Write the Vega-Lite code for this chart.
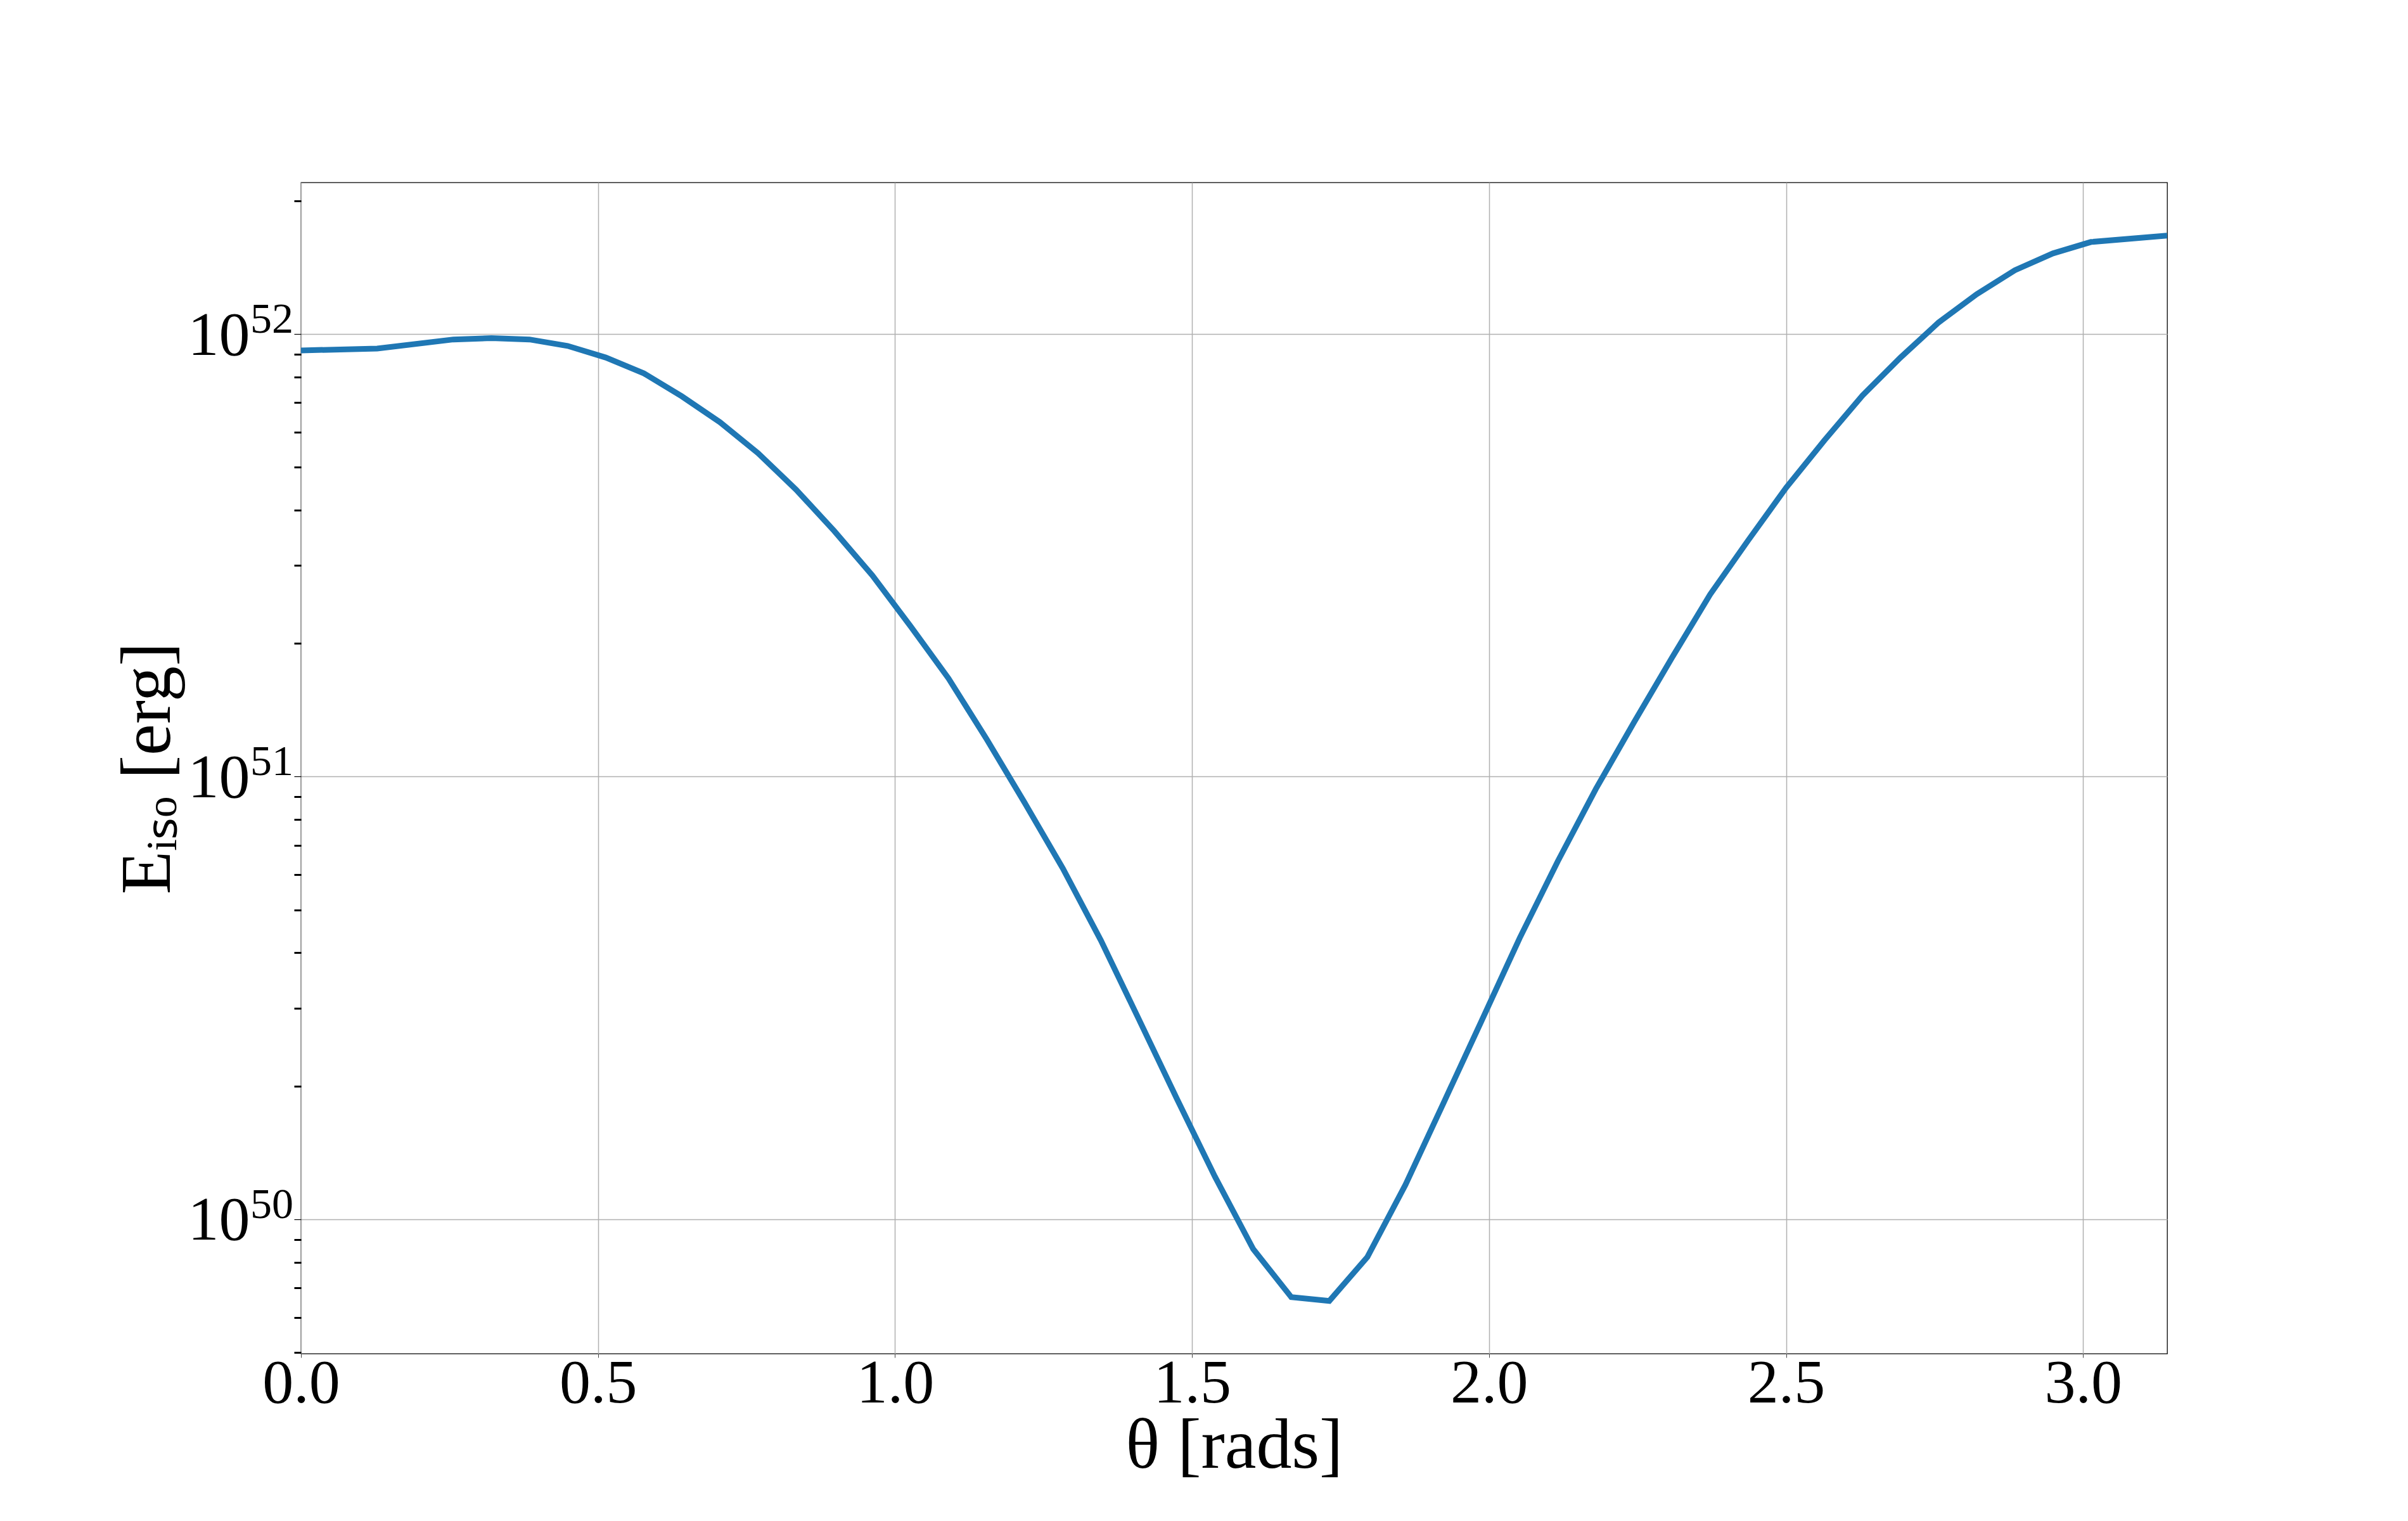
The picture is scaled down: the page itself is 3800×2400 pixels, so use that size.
{
  "$schema": "https://vega.github.io/schema/vega-lite/v6.json",
  "autosize": "none",
  "width": 2945,
  "height": 1848,
  "padding": {"left": 475, "top": 288, "right": 380, "bottom": 264},
  "background": "white",
  "config": {
    "view": {"stroke": "black", "strokeWidth": 1.3},
    "font": "Liberation Serif"
  },
  "datasets": {
    "curve": [
      {"theta": 0.0, "E": 9.18e51},
      {"theta": 0.1282, "E": 9.27e51},
      {"theta": 0.2565, "E": 9.72e51},
      {"theta": 0.3206, "E": 9.79e51},
      {"theta": 0.3847, "E": 9.72e51},
      {"theta": 0.4488, "E": 9.40e51},
      {"theta": 0.5129, "E": 8.85e51},
      {"theta": 0.5771, "E": 8.15e51},
      {"theta": 0.6412, "E": 7.23e51},
      {"theta": 0.7053, "E": 6.32e51},
      {"theta": 0.7694, "E": 5.38e51},
      {"theta": 0.8335, "E": 4.45e51},
      {"theta": 0.8976, "E": 3.59e51},
      {"theta": 0.9617, "E": 2.85e51},
      {"theta": 1.0258, "E": 2.19e51},
      {"theta": 1.0900, "E": 1.667e51},
      {"theta": 1.1541, "E": 1.216e51},
      {"theta": 1.2182, "E": 8.73e50},
      {"theta": 1.2823, "E": 6.21e50},
      {"theta": 1.3464, "E": 4.27e50},
      {"theta": 1.4105, "E": 2.83e50},
      {"theta": 1.4746, "E": 1.87e50},
      {"theta": 1.5387, "E": 1.247e50},
      {"theta": 1.6029, "E": 8.57e49},
      {"theta": 1.6670, "E": 6.67e49},
      {"theta": 1.7311, "E": 6.54e49},
      {"theta": 1.7952, "E": 8.22e49},
      {"theta": 1.8593, "E": 1.197e50},
      {"theta": 1.9234, "E": 1.832e50},
      {"theta": 1.9875, "E": 2.81e50},
      {"theta": 2.0516, "E": 4.32e50},
      {"theta": 2.1157, "E": 6.44e50},
      {"theta": 2.1798, "E": 9.38e50},
      {"theta": 2.2440, "E": 1.327e51},
      {"theta": 2.3081, "E": 1.858e51},
      {"theta": 2.3722, "E": 2.58e51},
      {"theta": 2.4363, "E": 3.42e51},
      {"theta": 2.5004, "E": 4.50e51},
      {"theta": 2.5645, "E": 5.75e51},
      {"theta": 2.6286, "E": 7.26e51},
      {"theta": 2.6927, "E": 8.85e51},
      {"theta": 2.7568, "E": 1.062e52},
      {"theta": 2.8210, "E": 1.230e52},
      {"theta": 2.8851, "E": 1.393e52},
      {"theta": 2.9492, "E": 1.521e52},
      {"theta": 3.0133, "E": 1.614e52},
      {"theta": 3.14159, "E": 1.669e52}
    ],
    "exponents": [
      {"E": 1e50, "exp": "50"},
      {"E": 1e51, "exp": "51"},
      {"E": 1e52, "exp": "52"}
    ]
  },
  "layer": [
    {
      "data": {"name": "curve"},
      "mark": {"type": "line", "color": "#1f77b4", "strokeWidth": 9, "clip": true},
      "encoding": {
        "x": {
          "field": "theta",
          "type": "quantitative",
          "scale": {"domain": [0, 3.14159], "nice": false, "zero": false},
          "axis": {
            "title": "θ [rads]",
            "values": [0, 0.5, 1, 1.5, 2, 2.5, 3],
            "format": ".1f",
            "labelFont": "Liberation Serif",
            "labelFontSize": 98,
            "labelColor": "black",
            "labelBaseline": "alphabetic",
            "labelPadding": 70,
            "labelFlush": false,
            "tickSize": 6,
            "tickWidth": 1,
            "tickColor": "#444",
            "domain": false,
            "grid": true,
            "gridColor": "#b0b0b0",
            "gridWidth": 1.5,
            "titleFont": "Liberation Serif",
            "titleFontSize": 112,
            "titleFontWeight": "normal",
            "titleColor": "black",
            "titleBaseline": "alphabetic",
            "titlePadding": 83
          }
        },
        "y": {
          "field": "E",
          "type": "quantitative",
          "scale": {"type": "log", "domain": [4.97e49, 2.199e52], "nice": false},
          "axis": {
            "title": "Eᵢₛₒ [erg]",
            "values": [5e49, 6e49, 7e49, 8e49, 9e49, 1e50, 2e50, 3e50, 4e50, 5e50, 6e50, 7e50, 8e50, 9e50, 1e51, 2e51, 3e51, 4e51, 5e51, 6e51, 7e51, 8e51, 9e51, 1e52, 2e52],
            "labelExpr": "(datum.value == 1e50 || datum.value == 1e51 || datum.value == 1e52) ? '10' : ''",
            "labelFont": "Liberation Serif",
            "labelFontSize": 98,
            "labelColor": "black",
            "labelBaseline": "alphabetic",
            "labelOffset": 32,
            "labelPadding": 70,
            "labelFlush": false,
            "tickSize": 11,
            "tickColor": "black",
            "tickWidth": {"condition": {"test": "datum.value == 1e50 || datum.value == 1e51 || datum.value == 1e52", "value": 1.2}, "value": 3},
            "domain": false,
            "grid": true,
            "gridColor": "#b0b0b0",
            "gridWidth": 1.5,
            "gridOpacity": {"condition": {"test": "datum.value == 1e50 || datum.value == 1e51 || datum.value == 1e52", "value": 1}, "value": 0},
            "titleFont": "Liberation Serif",
            "titleFontSize": 112,
            "titleFontWeight": "normal",
            "titleColor": "black",
            "titleBaseline": "alphabetic",
            "titlePadding": 29
          }
        }
      }
    },
    {
      "data": {"name": "exponents"},
      "mark": {"type": "text", "font": "Liberation Serif", "fontSize": 68, "color": "black", "align": "right", "baseline": "alphabetic", "dx": -12, "dy": -2, "clip": false},
      "encoding": {
        "x": {"datum": 0, "type": "quantitative"},
        "y": {"field": "E", "type": "quantitative"},
        "text": {"field": "exp"}
      }
    }
  ]
}
